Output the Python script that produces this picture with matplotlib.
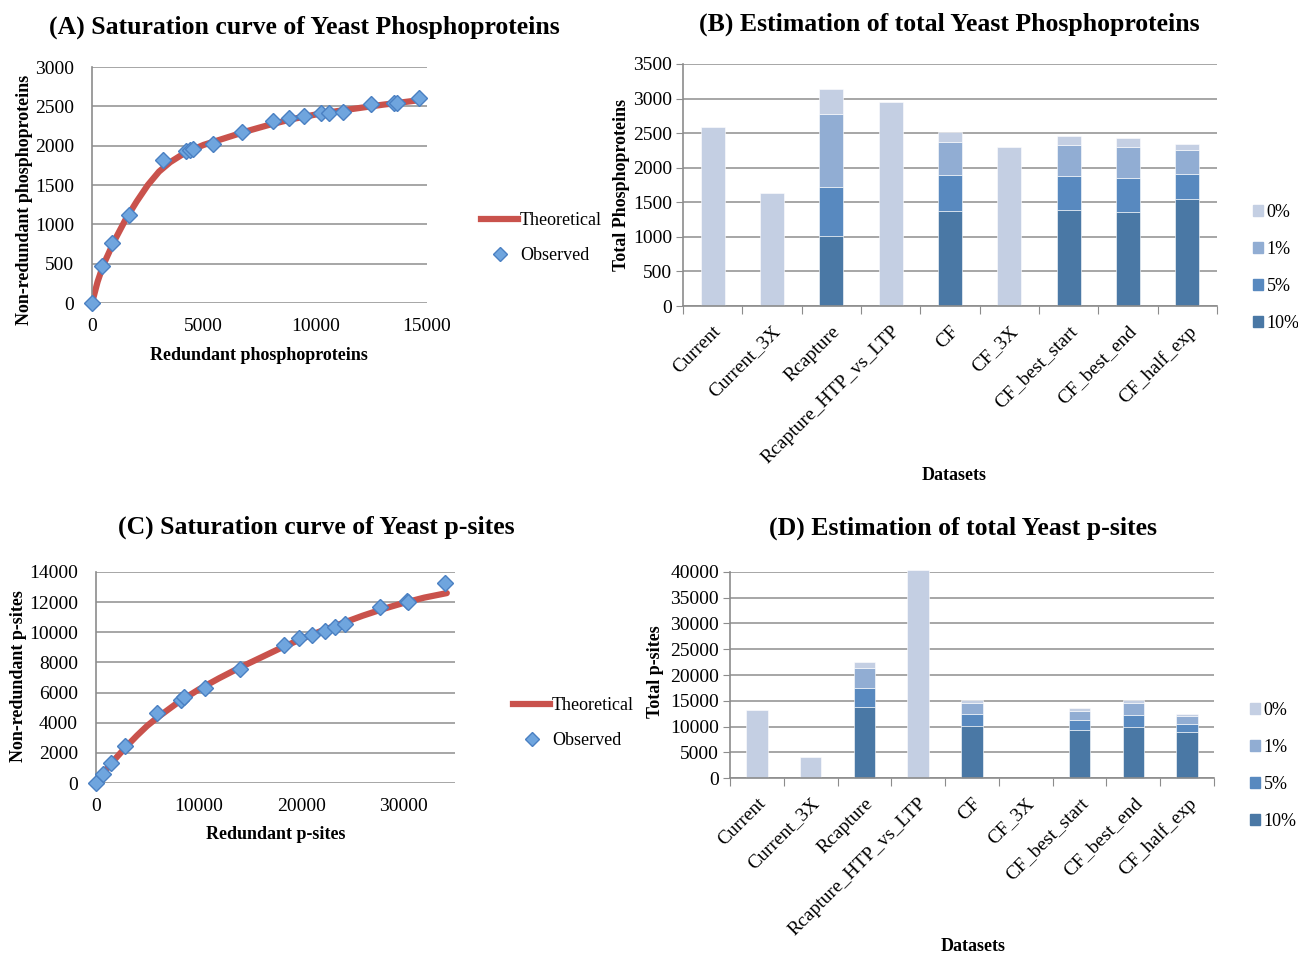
import matplotlib
matplotlib.use("Agg")
import matplotlib.pyplot as plt
import numpy as np
from matplotlib.lines import Line2D
from matplotlib.patches import Patch

plt.rcParams['font.family'] = ['Liberation Serif', 'DejaVu Serif']

W, H = 1298, 955

# ---- (A) phosphoproteins saturation ----
a_obs_x = [0, 460, 880, 1660, 3180, 4210, 4390, 4540, 5410, 6700, 8100, 8800,
           9500, 10250, 10590, 11220, 12490, 13540, 13660, 14660]
a_obs_y = [0, 474, 759, 1119, 1818, 1936, 1945, 1954, 2017, 2170, 2314, 2348,
           2381, 2419, 2419, 2432, 2526, 2546, 2539, 2602]
a_theo_x = [0, 250, 500, 1000, 1500, 2000, 2500, 3000, 3500, 4000, 4500, 5000,
            6000, 7000, 8000, 9000, 10000, 11000, 12000, 13000, 14000, 14700]
a_theo_y = [0, 270, 480, 790, 1060, 1290, 1500, 1670, 1790, 1880, 1950, 2010,
            2100, 2190, 2270, 2340, 2395, 2440, 2480, 2520, 2555, 2580]

# ---- (C) p-sites saturation ----
c_obs_x = [0, 712, 1424, 2816, 5987, 8252, 8576, 10615, 14013, 18317, 19806,
           21036, 22362, 23300, 24272, 27735, 30323, 30420, 34000]
c_obs_y = [0, 620, 1307, 2480, 4629, 5515, 5737, 6290, 7575, 9170, 9613,
           9790, 10055, 10344, 10543, 11650, 12094, 12006, 13268]
c_theo_x = [0, 1000, 2000, 3000, 4000, 5000, 6000, 8000, 10000, 12000, 14000,
            16000, 18000, 20000, 22000, 24000, 26000, 28000, 30000, 32000, 34200]
c_theo_y = [0, 900, 1700, 2450, 3150, 3800, 4350, 5350, 6200, 6950, 7650,
            8300, 8950, 9550, 10100, 10600, 11100, 11550, 11950, 12300, 12600]

# ---- (B)/(D) estimation bars ----
datasets = ["Current", "Current_3X", "Rcapture", "Rcapture_HTP_vs_LTP", "CF",
            "CF_3X", "CF_best_start", "CF_best_end", "CF_half_exp"]
levels = ["10%", "5%", "1%", "0%"]
# estimate at each level (stack tops); 0 where not estimated
b_est = {
    "10%": [0, 0, 1012, 0, 1368, 0, 1383, 1363, 1541],
    "5%":  [0, 0, 1715, 0, 1888, 0, 1879, 1845, 1913],
    "1%":  [0, 0, 2775, 0, 2375, 0, 2327, 2303, 2259],
    "0%":  [2590, 1633, 3136, 2948, 2510, 2293, 2452, 2433, 2346],
}
d_est = {
    "10%": [0, 0, 13700, 0, 10065, 0, 9286, 9935, 8896],
    "5%":  [0, 0, 17400, 0, 12403, 0, 11234, 12273, 10519],
    "1%":  [0, 0, 21364, 0, 14545, 0, 12987, 14545, 12013],
    "0%":  [13180, 4150, 22532, 40300, 15065, 0, 13506, 15065, 12403],
}
level_colors = {"10%": "#4A78A5", "5%": "#5889BF", "1%": "#91ADD3", "0%": "#C4CFE3"}

GRID = "#A6A6A6"
RED = "#C9524C"
BLUE = "#6FA5DE"
BLUE_EDGE = "#4A80C2"


def rect(l, r, t, b):
    return [l / W, 1 - b / H, (r - l) / W, (b - t) / H]


def fx(x):
    return x / W


def fy(y):
    return 1 - y / H


fig = plt.figure(figsize=(W / 100, H / 100), dpi=100)


def style_axes(ax):
    for s in ["top", "right"]:
        ax.spines[s].set_visible(False)
    ax.spines["left"].set_color("#8C8C8C")
    ax.spines["bottom"].set_color("#8C8C8C")
    ax.spines["left"].set_linewidth(1.2)
    ax.spines["bottom"].set_linewidth(1.2)
    ax.yaxis.grid(True, color=GRID, linewidth=1.4)
    ax.set_axisbelow(True)


def saturation(rectpx, tx, ty, ox, oy, xlim, xticks, ylim, yticks,
               title, title_xy, xlabel, xlabel_xy, ylabel, ylabel_xy, leg_xy):
    ax = fig.add_axes(rect(*rectpx))
    style_axes(ax)
    ax.plot(tx, ty, color=RED, lw=4.5, solid_capstyle="round", zorder=2)
    ax.plot(ox, oy, ls="none", marker="D", ms=8.6, mfc=BLUE, mec=BLUE_EDGE,
            mew=1.0, zorder=3, clip_on=False)
    ax.set_xlim(*xlim)
    ax.set_ylim(*ylim)
    ax.set_xticks(xticks)
    ax.set_yticks(yticks)
    ax.tick_params(axis="x", length=0, labelsize=14, pad=11)
    ax.tick_params(axis="y", length=0, labelsize=14, pad=13)
    ax.spines["bottom"].set_visible(False)
    fig.text(fx(title_xy[0]), fy(title_xy[1]), title, ha="center", va="center",
             fontsize=18.5, fontweight="bold")
    fig.text(fx(xlabel_xy[0]), fy(xlabel_xy[1]), xlabel, ha="center", va="center",
             fontsize=13, fontweight="bold")
    fig.text(fx(ylabel_xy[0]), fy(ylabel_xy[1]), ylabel, ha="center", va="center",
             fontsize=13, fontweight="bold", rotation=90)
    handles = [Line2D([], [], color=RED, lw=4.5),
               Line2D([], [], ls="none", marker="D", ms=7, mfc=BLUE, mec=BLUE_EDGE)]
    fig.legend(handles, ["Theoretical", "Observed"], loc="center left",
               bbox_to_anchor=(fx(leg_xy[0]), fy(leg_xy[1])), frameon=False,
               fontsize=13, handlelength=2.05, handletextpad=0.1,
               labelspacing=1.0, borderpad=0)
    return ax


def estimation(rectpx, est, ylim, ystep, title, title_xy, ylabel, ylabel_xy,
               xlabel_xy, leg_xy):
    ax = fig.add_axes(rect(*rectpx))
    style_axes(ax)
    x = np.arange(len(datasets))
    prev = np.zeros(len(datasets))
    for lv in levels:
        top = np.array(est[lv], dtype=float)
        h = np.where(top > 0, top - prev, 0)
        ax.bar(x, h, bottom=prev, width=0.4, color=level_colors[lv],
               edgecolor="white", linewidth=0.4, zorder=2, clip_on=False)
        prev = np.where(top > 0, top, prev)
    ax.set_xlim(-0.5, len(datasets) - 0.5)
    ax.set_ylim(*ylim)
    ax.set_yticks(np.arange(0, ylim[1] + 1, ystep))
    ax.tick_params(axis="y", length=5, color="#8C8C8C", labelsize=14, pad=3)
    ax.set_xticks(np.arange(-0.5, len(datasets), 1.0))
    ax.set_xticklabels([])
    ax.tick_params(axis="x", length=6, color="#8C8C8C")
    ax.set_xticks(x, minor=True)
    ax.set_xticklabels(datasets, minor=True, rotation=45, ha="right", va="top",
                       rotation_mode="anchor", fontsize=14)
    ax.tick_params(axis="x", which="minor", length=0, pad=12)
    fig.text(fx(title_xy[0]), fy(title_xy[1]), title, ha="center", va="center",
             fontsize=18.5, fontweight="bold")
    fig.text(fx(xlabel_xy[0]), fy(xlabel_xy[1]), "Datasets", ha="center",
             va="center", fontsize=13, fontweight="bold")
    fig.text(fx(ylabel_xy[0]), fy(ylabel_xy[1]), ylabel, ha="center", va="center",
             fontsize=13, fontweight="bold", rotation=90)
    handles = [Patch(color=level_colors[lv]) for lv in levels[::-1]]
    fig.legend(handles, levels[::-1], loc="center left",
               bbox_to_anchor=(fx(leg_xy[0]), fy(leg_xy[1])), frameon=False,
               fontsize=13, handlelength=0.55, handleheight=0.55,
               handletextpad=0.2, labelspacing=1.1, borderpad=0)
    return ax


saturation((92, 427, 67, 303), a_theo_x, a_theo_y, a_obs_x, a_obs_y,
           (0, 15000), [0, 5000, 10000, 15000], (0, 3000), np.arange(0, 3001, 500),
           "(A) Saturation curve of Yeast Phosphoproteins", (304, 27),
           "Redundant phosphoproteins", (259, 355),
           "Non-redundant phosphoproteins", (25, 200), (472, 238))

saturation((96, 455, 572, 783), c_theo_x, c_theo_y, c_obs_x, c_obs_y,
           (0, 35000), [0, 10000, 20000, 30000], (0, 14000), np.arange(0, 14001, 2000),
           "(C) Saturation curve of Yeast p-sites", (316, 527),
           "Redundant p-sites", (276, 834),
           "Non-redundant p-sites", (19, 676), (504, 723))

estimation((683, 1217, 64, 306), b_est, (0, 3500), 500,
           "(B) Estimation of total Yeast Phosphoproteins", (949, 24),
           "Total Phosphoproteins", (622, 185), (954, 475), (1244, 268))

estimation((730, 1214, 572, 778), d_est, (0, 40000), 5000,
           "(D) Estimation of total Yeast p-sites", (963, 528),
           "Total p-sites", (655, 672), (973, 946), (1241, 766))

fig.savefig("out.png", dpi=100)
